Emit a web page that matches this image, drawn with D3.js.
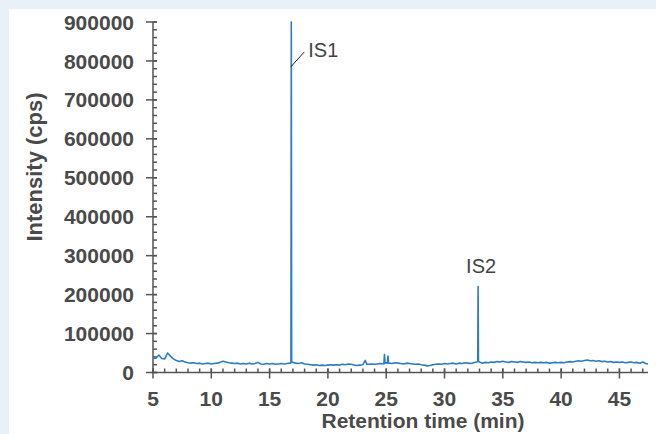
<!DOCTYPE html>
<html>

<head>
    <meta charset="UTF-8">
    <style>
        body { margin: 0; background: #e9f0f8; }
        svg { display: block; }
        text { font-family: "Liberation Sans", Arial, sans-serif; }
    </style>
</head>

<body>
    <svg></svg>
    <script src="https://d3js.org/d3.v7.min.js"></script>

    <script>

        let width = 656, height = 434;

        // chromatogram trace: [retention time (min), intensity (cps)]
        let trace = [
            [5.00, 36000], [5.25, 37000], [5.50, 45000], [5.75, 36000], [6.00, 35000], [6.25, 50000],
            [6.50, 42000], [6.75, 35000], [7.00, 31000], [7.25, 28000], [7.50, 30000], [7.75, 27000],
            [8.00, 25000], [8.25, 24000], [8.50, 25000], [8.75, 23000], [9.00, 24000], [9.25, 22000],
            [9.50, 23000], [9.75, 24000], [10.00, 22000], [10.25, 23000], [10.50, 24000], [10.75, 26000],
            [11.00, 29000], [11.25, 27000], [11.50, 25000], [11.75, 24000], [12.00, 23000], [12.25, 24000],
            [12.50, 22000], [12.75, 23000], [13.00, 22000], [13.25, 24000], [13.50, 22000], [13.75, 23000],
            [14.00, 26000], [14.25, 22000], [14.50, 21000], [14.75, 23000], [15.00, 22000], [15.25, 23000],
            [15.50, 21000], [15.75, 22000], [16.00, 23000], [16.25, 22000], [16.50, 23000], [16.75, 24000],
            [16.83, 25000], [16.86, 900000], [16.89, 27000],
            [17.00, 26000], [17.25, 24000], [17.50, 23000], [17.75, 25000], [18.00, 22000], [18.25, 21000],
            [18.50, 20000], [18.75, 19000], [19.00, 20000], [19.25, 18000], [19.50, 19000], [19.75, 18000],
            [20.00, 19000], [20.25, 20000], [20.50, 19000], [20.75, 20000], [21.00, 19000], [21.25, 21000],
            [21.50, 20000], [21.75, 22000], [22.00, 21000], [22.25, 19000], [22.50, 18000], [22.75, 19000],
            [23.00, 20000], [23.20, 31000], [23.35, 21000], [23.50, 21000], [23.75, 22000], [24.00, 21000],
            [24.25, 22000], [24.50, 23000], [24.80, 22000], [24.85, 46000], [24.90, 24000], [25.00, 25000],
            [25.10, 24000], [25.15, 42000], [25.20, 24000], [25.50, 23000], [25.75, 25000], [26.00, 24000],
            [26.25, 23000], [26.50, 22000], [26.75, 24000], [27.00, 23000], [27.25, 22000], [27.50, 21000],
            [27.75, 22000], [28.00, 20000], [28.25, 19000], [28.50, 17000], [28.75, 18000], [29.00, 20000],
            [29.25, 21000], [29.50, 22000], [29.75, 21000], [30.00, 23000], [30.25, 22000], [30.50, 23000],
            [30.75, 24000], [31.00, 22000], [31.25, 24000], [31.50, 23000], [31.75, 25000], [32.00, 24000],
            [32.25, 23000], [32.50, 25000], [32.75, 27000],
            [32.85, 28000], [32.88, 221000], [32.91, 29000],
            [33.00, 27000], [33.25, 24000], [33.50, 26000], [33.75, 25000], [34.00, 27000], [34.25, 26000],
            [34.50, 28000], [34.75, 27000], [35.00, 29000], [35.25, 27000], [35.50, 26000], [35.75, 28000],
            [36.00, 27000], [36.25, 26000], [36.50, 28000], [36.75, 27000], [37.00, 26000], [37.25, 27000],
            [37.50, 25000], [37.75, 26000], [38.00, 25000], [38.25, 26000], [38.50, 25000], [38.75, 26000],
            [39.00, 24000], [39.25, 25000], [39.50, 26000], [39.75, 25000], [40.00, 26000], [40.25, 25000],
            [40.50, 27000], [40.75, 28000], [41.00, 27000], [41.25, 29000], [41.50, 30000], [41.75, 29000],
            [42.00, 31000], [42.25, 32000], [42.50, 30000], [42.75, 31000], [43.00, 29000], [43.25, 30000],
            [43.50, 28000], [43.75, 29000], [44.00, 27000], [44.25, 28000], [44.50, 26000], [44.75, 27000],
            [45.00, 26000], [45.25, 27000], [45.50, 25000], [45.75, 26000], [46.00, 27000], [46.25, 25000],
            [46.50, 26000], [46.75, 24000], [47.00, 27000], [47.25, 23000], [47.45, 22000]
        ];

        let xTicks = [5, 10, 15, 20, 25, 30, 35, 40, 45];
        let yTicks = [0, 100000, 200000, 300000, 400000, 500000, 600000, 700000, 800000, 900000];

        // peak annotations: [label, time, intensity]
        let peaks = [["IS1", 16.86, 900000], ["IS2", 32.88, 221000]];

        let axisColor = "#555555", textColor = "#4a4a4a", lineColor = "#2d7cc3";

        let svg = d3.select("svg")
            .attr("width", width)
            .attr("height", height);

        // white panel
        svg.append("rect")
            .attr("x", 9).attr("y", 9)
            .attr("width", width - 9).attr("height", height - 9)
            .attr("fill", "#ffffff");

        let x = d3.scaleLinear().domain([5, 47.45]).range([153, 648]);
        let y = d3.scaleLinear().domain([0, 900000]).range([372.5, 22]);

        let axes = svg.append("g")
            .attr("stroke", axisColor)
            .attr("stroke-width", 1.5);

        // y axis
        axes.append("line")
            .attr("x1", x(5)).attr("x2", x(5))
            .attr("y1", y(900000)).attr("y2", y(0));
        axes.selectAll(".yminor")
            .data(d3.range(0, 900001, 20000))
            .enter().append("line")
            .attr("x1", x(5)).attr("x2", x(5) + 4)
            .attr("y1", d => y(d)).attr("y2", d => y(d));
        axes.selectAll(".ymajor")
            .data(yTicks)
            .enter().append("line")
            .attr("x1", x(5) - 7).attr("x2", x(5) + 4)
            .attr("y1", d => y(d)).attr("y2", d => y(d));

        // x axis
        axes.append("line")
            .attr("x1", x(5)).attr("x2", x(47.45))
            .attr("y1", y(0)).attr("y2", y(0));
        axes.selectAll(".xminor")
            .data(d3.range(5, 47.5, 1))
            .enter().append("line")
            .attr("x1", d => x(d)).attr("x2", d => x(d))
            .attr("y1", y(0) - 4).attr("y2", y(0));
        axes.selectAll(".xmajor")
            .data(xTicks)
            .enter().append("line")
            .attr("x1", d => x(d)).attr("x2", d => x(d))
            .attr("y1", y(0) - 4).attr("y2", y(0) + 6);

        // tick labels
        svg.append("g").selectAll("text")
            .data(yTicks)
            .enter().append("text")
            .attr("x", x(5) - 19)
            .attr("y", d => y(d))
            .attr("dy", "0.36em")
            .attr("text-anchor", "end")
            .attr("font-size", 21)
            .attr("font-weight", "bold")
            .attr("fill", textColor)
            .text(d => d);

        svg.append("g").selectAll("text")
            .data(xTicks)
            .enter().append("text")
            .attr("x", d => x(d))
            .attr("y", 406)
            .attr("text-anchor", "middle")
            .attr("font-size", 21)
            .attr("font-weight", "bold")
            .attr("fill", textColor)
            .text(d => d);

        // axis titles
        svg.append("text")
            .attr("x", 423)
            .attr("y", 428)
            .attr("text-anchor", "middle")
            .attr("font-size", 21)
            .attr("font-weight", "bold")
            .attr("fill", textColor)
            .text("Retention time (min)");

        svg.append("text")
            .attr("transform", "translate(42,167) rotate(-90)")
            .attr("text-anchor", "middle")
            .attr("font-size", 22)
            .attr("font-weight", "bold")
            .attr("fill", textColor)
            .text("Intensity (cps)");

        // trace
        let line = d3.line()
            .x(d => x(d[0]))
            .y(d => y(d[1]));

        svg.append("path")
            .datum(trace)
            .attr("d", line)
            .attr("fill", "none")
            .attr("stroke", lineColor)
            .attr("stroke-width", 1.6)
            .attr("stroke-linejoin", "round");

        // peak labels
        svg.append("line")
            .attr("x1", x(peaks[0][1]) - 0.5).attr("y1", y(800000) + 6)
            .attr("x2", x(peaks[0][1]) + 13).attr("y2", y(800000) - 9)
            .attr("stroke", "#222")
            .attr("stroke-width", 1);

        svg.append("text")
            .attr("x", x(peaks[0][1]) + 17)
            .attr("y", 57)
            .attr("font-size", 20)
            .attr("fill", "#444")
            .text(peaks[0][0]);

        svg.append("text")
            .attr("x", x(peaks[1][1]) + 3)
            .attr("y", y(peaks[1][2]) - 13)
            .attr("text-anchor", "middle")
            .attr("font-size", 20)
            .attr("fill", "#444")
            .text(peaks[1][0]);

    </script>

</body>

</html>
